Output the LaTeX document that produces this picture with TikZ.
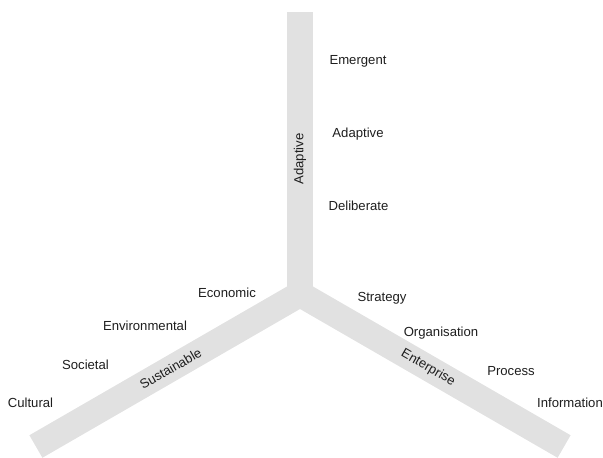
\documentclass[tikz,border=0pt]{standalone}
\usepackage{fontspec}
\setmainfont{Liberation Sans}
\usepackage{tikz}
\definecolor{bargray}{RGB}{225,225,225}
\definecolor{textgray}{RGB}{30,30,30}
\tikzset{
    bar/.style={line width=19.5pt, draw=bargray},
    lbl/.style={font=\fontsize{9.85}{12}\selectfont, text=textgray, inner sep=0pt},
}

\begin{document}
\begin{tikzpicture}[x=0.75pt, y=-0.75pt]
        \useasboundingbox (0, 0) rectangle (603, 457);

        \coordinate (o)     at (300, 294);
        \coordinate (top)   at (300, 12);
        \coordinate (left)  at (35.9, 446.5);
        \coordinate (right) at (564.1, 446.5);

        \draw [bar] (o) -- (top)   node[lbl, sloped, pos=0.479] (adapt) {Adaptive};
        \draw [bar] (o) -- (left)  node[lbl, sloped, pos=0.49]  (sust)  {Sustainable};
        \draw [bar] (o) -- (right) node[lbl, sloped, pos=0.485] (ent)   {Enterprise};

        \node[lbl, anchor=base] at (358, 64)    (emer)  {Emergent};
        \node[lbl, anchor=base] at (358, 137)   (adpt)  {Adaptive};
        \node[lbl, anchor=base] at (358.5, 210) (delib) {Deliberate};

        \node[lbl, anchor=base] at (227, 297)   (econ)  {Economic};
        \node[lbl, anchor=base] at (145, 330)   (env)   {Environmental};
        \node[lbl, anchor=base] at (85.5, 369)  (soc)   {Societal};
        \node[lbl, anchor=base] at (30.5, 407)  (cult)  {Cultural};

        \node[lbl, anchor=base] at (382, 301)   (strat) {Strategy};
        \node[lbl, anchor=base] at (441, 336)   (org)   {Organisation};
        \node[lbl, anchor=base] at (511, 375)   (proc)  {Process};
        \node[lbl, anchor=base] at (570, 407)   (info)  {Information};
    \end{tikzpicture}
\end{document}
